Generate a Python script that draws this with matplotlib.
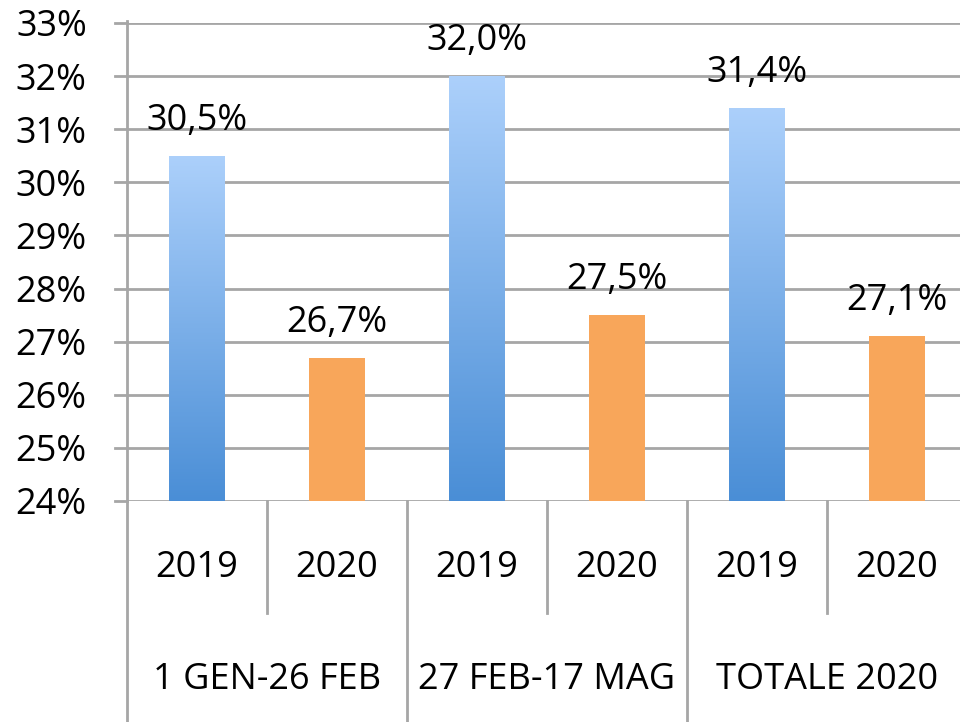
import matplotlib.pyplot as plt
import numpy as np
from matplotlib.colors import LinearSegmentedColormap

# data
groups = ["1 GEN-26 FEB", "27 FEB-17 MAG", "TOTALE 2020"]
years = ["2019", "2020"]
vals_2019 = [30.5, 32.0, 31.4]
vals_2020 = [26.7, 27.5, 27.1]
y_ticks = list(range(24, 34))

plt.rcParams["font.family"] = ["Open Sans", "DejaVu Sans"]
plt.rcParams["font.weight"] = 500
FS = 26
GRID = "#a6a6a6"

fig = plt.figure(figsize=(9.6, 7.22), dpi=100)
ax = fig.add_axes([127 / 960, 221 / 722, 840 / 960, 478 / 722])

n = len(groups) * len(years)
xs = np.arange(n)
heights = []
for a, b in zip(vals_2019, vals_2020):
    heights += [a, b]

blue = LinearSegmentedColormap.from_list("bl", ["#4a8ed6", "#acd0fb"])
grad = np.linspace(0, 1, 256).reshape(-1, 1)

ax.set_xlim(-0.5, n - 0.5)
ax.set_ylim(24, 33)

for i, (x, h) in enumerate(zip(xs, heights)):
    if i % 2 == 0:
        bar = ax.bar(x, h - 24, bottom=24, width=0.4, color="none", edgecolor="none", zorder=3)[0]
        im = ax.imshow(grad, cmap=blue, extent=[x - 0.2, x + 0.2, 24, h],
                       origin="lower", aspect="auto", zorder=3)
        im.set_clip_path(bar)
    else:
        ax.bar(x, h - 24, bottom=24, width=0.4, color="#f8a65a", zorder=3)
    ax.text(x, h + 0.32, f"{h:.1f}%".replace(".", ","), ha="center", va="bottom",
            fontsize=FS, color="black", zorder=4)

ax.set_xlim(-0.5, n - 0.5)
ax.set_ylim(24, 33)

ax.set_yticks(y_ticks)
ax.set_yticklabels([f"{t}%" for t in y_ticks], fontsize=FS)
ax.tick_params(axis="y", length=0, pad=29)
ax.tick_params(axis="x", length=0, labelbottom=False)
ax.yaxis.grid(True, color=GRID, lw=2)
ax.set_axisbelow(True)
for s in ["top", "right", "bottom", "left"]:
    ax.spines[s].set_visible(False)

# left axis, small tick stubs and separators of the two-level category axis
trans = ax.get_xaxis_transform()
px = 1 / 478
stub = 12 / 140
ax.plot([-0.5, -0.5], [1 + 2 * px, -221 * px], transform=trans, color=GRID, lw=2, clip_on=False, zorder=5)
for t in y_ticks:
    ax.plot([-0.5 - stub, -0.5], [t, t], color=GRID, lw=2, clip_on=False)
for k in range(1, n):
    x = k - 0.5
    bottom = -221 * px if k % 2 == 0 else -112 * px
    ax.plot([x, x], [0, bottom], transform=trans, color=GRID, lw=2, clip_on=False)

for i, x in enumerate(xs):
    ax.text(x, -67 * px, years[i % 2], transform=trans, ha="center", va="center", fontsize=FS)
for g, name in enumerate(groups):
    ax.text(2 * g + 0.5, -179 * px, name, transform=trans, ha="center", va="center", fontsize=FS)

fig.savefig("out.png", dpi=100)
